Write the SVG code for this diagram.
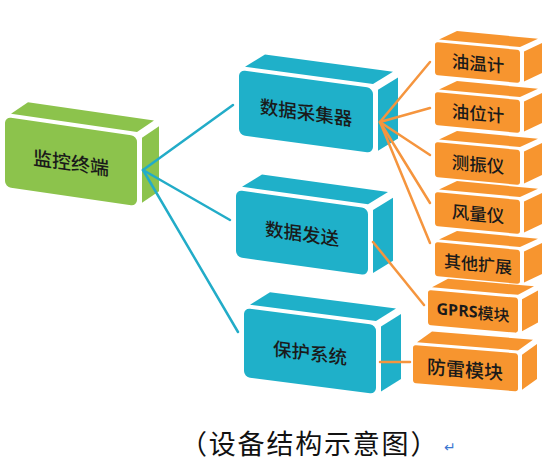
<svg xmlns="http://www.w3.org/2000/svg" width="549" height="462" viewBox="0 0 549 462">
<style>
.g{fill:#8cc34c}
.b{fill:#1fb0c9}
.o{fill:#f7952f}
.t{font-family:"Noto Sans CJK SC","Noto Sans",sans-serif;font-weight:500;fill:#1a1a1a;text-anchor:middle;dominant-baseline:central}
.cb{stroke:#22acc8;stroke-width:2.5;fill:none;stroke-linecap:round}
.co{stroke:#f5953e;stroke-width:2.5;fill:none;stroke-linecap:round}
</style>
<rect width="549" height="462" fill="#fff"/>

<g id="monitor" transform="translate(5,117) skewY(8.2)">
<polygon class="g" points="6,-4 132,-4 149,-18 23,-18"/>
<polygon class="g" points="137,1 154,-13 154,52 137,66"/>
<rect class="g" x="0" y="0" width="132" height="70" rx="6"/>
<text class="t" x="66" y="35" font-size="19">监控终端</text>
</g>

<g id="collector" transform="translate(239,70) skewY(7.7)">
<polygon class="b" points="6,-4 134,-4 154,-19 26,-19"/>
<polygon class="b" points="139,1 159,-14 159,47 139,62"/>
<rect class="b" x="0" y="0" width="134" height="65" rx="6"/>
<text class="t" x="67" y="32" font-size="18.5">数据采集器</text>
</g>

<g id="sender" transform="translate(236,190) skewY(7.9)">
<polygon class="b" points="6,-4 132,-4 152,-19 26,-19"/>
<polygon class="b" points="137,1 157,-14 157,49 137,64"/>
<rect class="b" x="0" y="0" width="132" height="67" rx="6"/>
<text class="t" x="66" y="33" font-size="18.5">数据发送</text>
</g>

<g id="protect" transform="translate(244,308) skewY(7.3)">
<polygon class="b" points="6,-4 132,-4 152,-19 26,-19"/>
<polygon class="b" points="137,1 157,-14 157,51 137,66"/>
<rect class="b" x="0" y="0" width="132" height="69" rx="6"/>
<text class="t" x="66" y="35" font-size="18.5">保护系统</text>
</g>

<g id="oil-temp" transform="translate(435,42) skewY(5.4)">
<polygon class="o" points="4,-3 85,-3 103,-13 22,-13"/>
<polygon class="o" points="89,1 107,-9 107,21 89,31"/>
<rect class="o" x="0" y="0" width="85" height="33" rx="3"/>
<text class="t" x="43" y="16.5" font-size="17.5">油温计</text>
</g>

<g id="oil-level" transform="translate(435,92) skewY(5.4)">
<polygon class="o" points="4,-3 85,-3 103,-13 22,-13"/>
<polygon class="o" points="89,1 107,-9 107,21 89,31"/>
<rect class="o" x="0" y="0" width="85" height="33" rx="3"/>
<text class="t" x="43" y="16.5" font-size="17.5">油位计</text>
</g>

<g id="vibration" transform="translate(435,142) skewY(5.4)">
<polygon class="o" points="4,-3 85,-3 103,-13 22,-13"/>
<polygon class="o" points="89,1 107,-9 107,23 89,33"/>
<rect class="o" x="0" y="0" width="85" height="35" rx="3"/>
<text class="t" x="43" y="17.5" font-size="17.5">测振仪</text>
</g>

<g id="wind" transform="translate(435,192) skewY(5.4)">
<polygon class="o" points="4,-3 85,-3 103,-13 22,-13"/>
<polygon class="o" points="89,1 107,-9 107,22 89,32"/>
<rect class="o" x="0" y="0" width="85" height="34" rx="3"/>
<text class="t" x="43" y="17" font-size="17.5">风量仪</text>
</g>

<g id="other" transform="translate(435,242) skewY(5.4)">
<polygon class="o" points="4,-3 85,-3 103,-13 22,-13"/>
<polygon class="o" points="89,1 107,-9 107,22 89,32"/>
<rect class="o" x="0" y="0" width="85" height="34" rx="3"/>
<text class="t" x="43" y="17" font-size="17">其他扩展</text>
</g>

<g id="gprs" transform="translate(428,290) skewY(5)">
<polygon class="o" points="4,-3 90,-3 106,-13 20,-13"/>
<polygon class="o" points="94,1 110,-9 110,23 94,33"/>
<rect class="o" x="0" y="0" width="90" height="35" rx="3"/>
<text class="t" x="45" y="17.5" font-size="16"><tspan font-family="Open Sans,Liberation Sans,sans-serif" font-weight="bold">GPRS</tspan>模块</text>
</g>

<g id="lightning" transform="translate(413,345) skewY(4.6)">
<polygon class="o" points="4,-3 105,-3 120,-15 19,-15"/>
<polygon class="o" points="109,1 124,-11 124,24 109,36"/>
<rect class="o" x="0" y="0" width="105" height="38" rx="3"/>
<text class="t" x="52" y="19" font-size="19">防雷模块</text>
</g>

<g id="connectors">
<line class="cb" x1="143" y1="170" x2="233" y2="105"/>
<line class="cb" x1="143" y1="170" x2="230" y2="220"/>
<line class="cb" x1="143" y1="170" x2="238" y2="332"/>
<line class="co" x1="380" y1="122" x2="430" y2="62"/>
<line class="co" x1="380" y1="122" x2="430" y2="108"/>
<line class="co" x1="380" y1="122" x2="430" y2="155"/>
<line class="co" x1="380" y1="122" x2="430" y2="203"/>
<line class="co" x1="380" y1="122" x2="430" y2="243"/>
<line class="co" x1="373" y1="242" x2="424" y2="305"/>
<line class="co" x1="380" y1="362" x2="410" y2="362"/>
</g>

<text x="180" y="454" font-family="Noto Sans CJK SC,sans-serif" font-size="27" letter-spacing="1.8" fill="#111">（设备结构示意图）</text>
<text x="444" y="452" font-family="DejaVu Sans,sans-serif" font-size="14" fill="#3a76d0">↵</text>
</svg>
